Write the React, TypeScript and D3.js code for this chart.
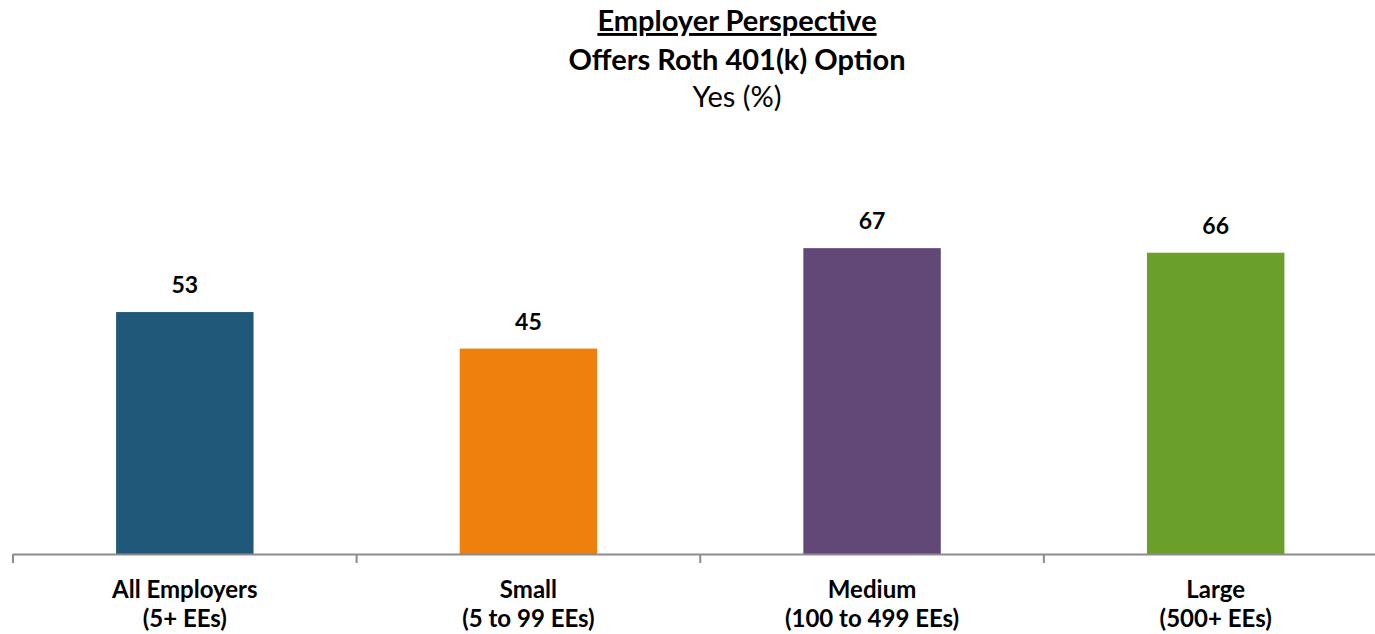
import React from "react";
import * as d3 from "d3";

const categories = ["All Employers", "Small", "Medium", "Large"];
const subLabels = ["(5+ EEs)", "(5 to 99 EEs)", "(100 to 499 EEs)", "(500+ EEs)"];
const values = [53, 45, 67, 66];
const colors = ["#1F5878", "#EF800E", "#624877", "#6A9F2A"];
const titleLines = ["Employer Perspective", "Offers Roth 401(k) Option", "Yes (%)"];

const W = 1375;
const H = 634;
const FONT = "Lato, 'Open Sans', sans-serif";

export default function App() {
  const x = d3.scaleBand<string>().domain(categories).range([13, 1387.5]).paddingInner(0.6).paddingOuter(0.3);
  const y = d3.scaleLinear().domain([0, 100]).range([554, 97.5]);
  const step = x.step();
  const ticks = d3.range(categories.length).map((i) => 13 + i * step);

  return (
    <svg width={W} height={H} style={{ position: "absolute", left: 0, top: 0, background: "#fff" }}>
      <g fontFamily={FONT} fill="#000" textAnchor="middle">
        <text x={737} y={31} fontSize={29} fontWeight="bold" textDecoration="underline">{titleLines[0]}</text>
        <text x={737} y={70} fontSize={29} fontWeight="bold">{titleLines[1]}</text>
        <text x={737} y={107} fontSize={29}>{titleLines[2]}</text>
      </g>
      {categories.map((c, i) => (
        <g key={c}>
          <rect x={x(c)!} y={y(values[i])} width={x.bandwidth()} height={y(0) - y(values[i])} fill={colors[i]} />
          <text x={x(c)! + x.bandwidth() / 2} y={y(values[i]) - 19} textAnchor="middle" fontFamily={FONT} fontWeight="bold" fontSize={23}>
            {values[i]}
          </text>
          <text x={x(c)! + x.bandwidth() / 2} y={598} textAnchor="middle" fontFamily={FONT} fontWeight="bold" fontSize={24}>
            {c}
          </text>
          <text x={x(c)! + x.bandwidth() / 2} y={627} textAnchor="middle" fontFamily={FONT} fontWeight="bold" fontSize={24}>
            {subLabels[i]}
          </text>
        </g>
      ))}
      <line x1={13} x2={W} y1={554.5} y2={554.5} stroke="#8C8C8C" strokeWidth={2} />
      {ticks.map((t, i) => (
        <line key={i} x1={t} x2={t} y1={554} y2={563} stroke="#8C8C8C" strokeWidth={2} />
      ))}
    </svg>
  );
}
